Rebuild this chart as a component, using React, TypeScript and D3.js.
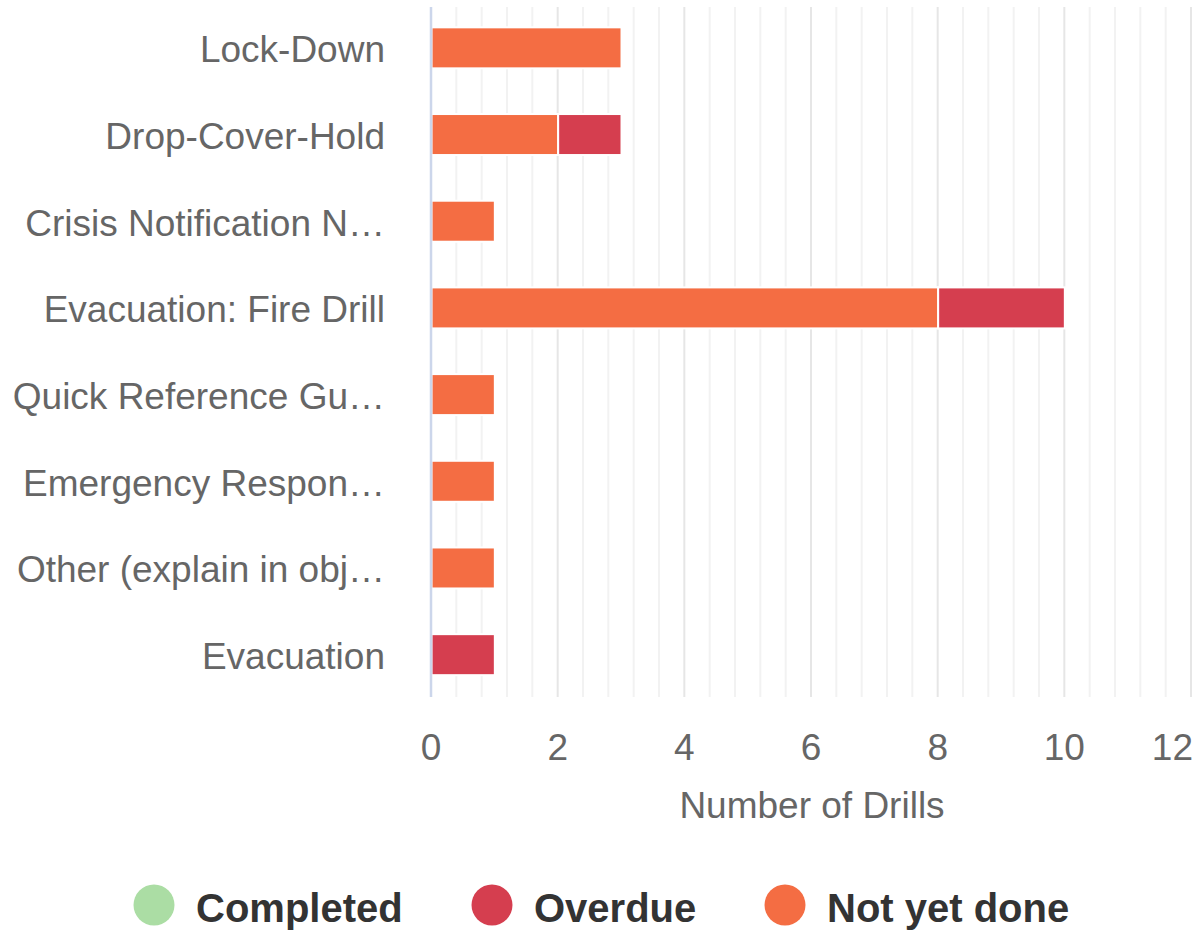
import React from "react";
import * as d3 from "d3";

const categories = [
  "Lock-Down",
  "Drop-Cover-Hold",
  "Crisis Notification N…",
  "Evacuation: Fire Drill",
  "Quick Reference Gu…",
  "Emergency Respon…",
  "Other (explain in obj…",
  "Evacuation",
];

const seriesNames = ["Completed", "Overdue", "Not yet done"];
const completed = [0, 0, 0, 0, 0, 0, 0, 0];
const overdue = [0, 1, 0, 2, 0, 0, 0, 1];
const notYetDone = [3, 2, 1, 8, 1, 1, 1, 0];
const colors = ["#abdda4", "#d53e4f", "#f46d43"];
const majorTicks = [0, 2, 4, 6, 8, 10, 12];
const minorTicks = [0.4, 0.8, 1.2, 1.6, 2.4, 2.8, 3.2, 3.6, 4.4, 4.8, 5.2, 5.6, 6.4, 6.8, 7.2, 7.6, 8.4, 8.8, 9.2, 9.6, 10.4, 10.8, 11.2, 11.6];

const W = 1196;
const H = 932;
const left = 431;
const right = 1191;
const top = 4.5;
const bottom = 698;
const font = "'Liberation Sans', Arial, Helvetica, sans-serif";

export default function App() {
  const x = d3.scaleLinear().domain([0, 12]).range([left, right]);
  const y = d3.scaleBand<string>().domain(categories).range([top, bottom]).padding(0);
  const barH = 41;

  // stacking order: last series at the base (left)
  const stackOrder = [2, 1, 0];
  const seriesValues = [completed, overdue, notYetDone];

  const bars: React.ReactNode[] = [];
  categories.forEach((c, i) => {
    let acc = 0;
    const cy = (y(c) as number) + y.bandwidth() / 2;
    stackOrder.forEach((s) => {
      const v = seriesValues[s][i];
      if (v > 0) {
        const x0 = x(acc);
        const x1 = x(acc + v);
        bars.push(
          <rect
            key={`${c}-${s}`}
            x={x0 + 0.5}
            y={cy - barH / 2}
            width={x1 - x0}
            height={barH}
            fill={colors[s]}
            stroke="#ffffff"
            strokeWidth={2}
          />
        );
        acc += v;
      }
    });
  });

  const legendX = [154, 492, 785];

  return (
    <svg
      width={W}
      height={H}
      style={{ position: "absolute", left: 0, top: 0, background: "#fff" }}
      fontFamily={font}
    >
      <rect x={0} y={0} width={W} height={H} fill="#ffffff" />
      {minorTicks.map((t) => (
        <line key={`mi${t}`} x1={x(t)} x2={x(t)} y1={7} y2={697} stroke="#f2f2f2" strokeWidth={2} />
      ))}
      {majorTicks.map((t) => (
        <line key={`ma${t}`} x1={x(t)} x2={x(t)} y1={7} y2={697} stroke="#e6e6e6" strokeWidth={2} />
      ))}
      {bars}
      <line x1={left} x2={left} y1={7} y2={697} stroke="#ccd6eb" strokeWidth={2.5} />
      {categories.map((c) => (
        <text
          key={c}
          x={385}
          y={(y(c) as number) + y.bandwidth() / 2 + 14.5}
          textAnchor="end"
          fontSize={37}
          fill="#666666"
        >
          {c}
        </text>
      ))}
      {majorTicks.map((t, i) => (
        <text
          key={`tl${t}`}
          x={i === majorTicks.length - 1 ? 1193 : x(t)}
          y={760}
          textAnchor={i === majorTicks.length - 1 ? "end" : "middle"}
          fontSize={37}
          fill="#666666"
        >
          {t}
        </text>
      ))}
      <text x={(left + 1193) / 2} y={818} textAnchor="middle" fontSize={37} fill="#666666">
        Number of Drills
      </text>
      {seriesNames.map((n, i) => (
        <g key={n}>
          <circle cx={legendX[i]} cy={905} r={20.5} fill={colors[i]} />
          <text x={legendX[i] + 42} y={922} fontSize={40} fontWeight="bold" fill="#333333">
            {n}
          </text>
        </g>
      ))}
    </svg>
  );
}
